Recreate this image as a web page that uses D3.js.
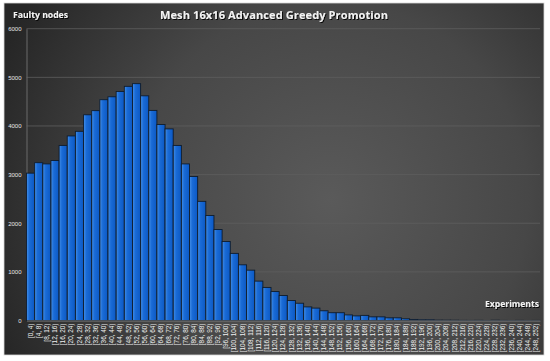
<!DOCTYPE html>
<html>
<head>
<meta charset="utf-8">
<script src="https://cdn.jsdelivr.net/npm/d3@7"></script>
<style>
  body { margin: 0; background: #fff; }
  svg { display: block; }
</style>
</head>
<body>
<svg id="chart" width="550" height="361"></svg>
<script>
// bins of 4 experiments: [0, 4) ... [248, 252)
const binStarts = d3.range(0, 252, 4);
const categories = binStarts.map(s => `[${s}, ${s + 4})`);

// faulty nodes per bin
const counts = [
  3030, 3245, 3220, 3290, 3600, 3795, 3890, 4230, 4315, 4540,
  4600, 4710, 4815, 4870, 4620, 4320, 4030, 3940, 3600, 3220,
  2960, 2450, 2160, 1870, 1625, 1380, 1145, 1035, 810, 680,
  595, 515, 410, 355, 280, 255, 200, 160, 160, 115,
  95, 105, 75, 75, 55, 55, 35, 22, 14, 14,
  8, 7, 6, 3, 2, 4, 1, 6, 2, 1,
  3, 1, 2
];

const yTicks = [0, 1000, 2000, 3000, 4000, 5000, 6000];

const svg = d3.select('#chart');

//BACKGROUND
const defs = svg.append('defs');
const bg = defs.append('radialGradient')
  .attr('id', 'bg')
  .attr('gradientUnits', 'userSpaceOnUse')
  .attr('cx', 330).attr('cy', 200).attr('r', 360);
bg.append('stop').attr('offset', '0%').attr('stop-color', '#5a5a5a');
bg.append('stop').attr('offset', '55%').attr('stop-color', '#474747');
bg.append('stop').attr('offset', '100%').attr('stop-color', '#262626');

const barGrad = defs.append('linearGradient')
  .attr('id', 'bar')
  .attr('x1', '0%').attr('x2', '100%').attr('y1', '0%').attr('y2', '0%');
barGrad.append('stop').attr('offset', '0%').attr('stop-color', '#4590e8');
barGrad.append('stop').attr('offset', '35%').attr('stop-color', '#1a6bd6');
barGrad.append('stop').attr('offset', '100%').attr('stop-color', '#0b58c4');

const shadow = defs.append('filter').attr('id', 'shadow')
  .attr('x', '-10%').attr('y', '-30%').attr('width', '130%').attr('height', '160%');
shadow.append('feDropShadow')
  .attr('dx', 1).attr('dy', 1).attr('stdDeviation', 0.6)
  .attr('flood-color', '#000').attr('flood-opacity', 0.9);

svg.append('rect')
  .attr('x', 4).attr('y', 3)
  .attr('width', 540).attr('height', 352)
  .attr('fill', 'url(#bg)')
  .attr('stroke', '#d8d8d8')
  .attr('stroke-width', 0.8);

//SCALES
const x = d3.scaleBand()
  .domain(categories)
  .range([26.5, 540])
  .paddingInner(0)
  .paddingOuter(0);

const y = d3.scaleLinear()
  .domain([0, 6000])
  .range([320.5, 28.7]);

//GRID
svg.append('g')
  .selectAll('line')
  .data(yTicks.filter(t => t > 0))
  .join('line')
  .attr('x1', 26.5).attr('x2', 540)
  .attr('y1', d => y(d)).attr('y2', d => y(d))
  .attr('stroke', '#5e5e5e')
  .attr('stroke-width', 0.8);

//Y AXIS
const yAxis = svg.append('g')
  .attr('transform', 'translate(26.5,0)')
  .call(d3.axisLeft(y).tickValues(yTicks).tickSize(0).tickPadding(5).tickFormat(d3.format('d')));
yAxis.select('.domain').attr('stroke', '#6a6a6a');
yAxis.selectAll('text')
  .attr('fill', '#e6e6e6')
  .style('font-family', 'Liberation Sans, Arial, sans-serif')
  .style('font-size', '6px');

//BARS
svg.append('g')
  .selectAll('rect')
  .data(counts)
  .join('rect')
  .attr('x', (d, i) => x(categories[i]))
  .attr('y', d => y(d))
  .attr('width', x.bandwidth())
  .attr('height', d => y(0) - y(d))
  .attr('fill', 'url(#bar)')
  .attr('stroke', '#0f1c2c')
  .attr('stroke-width', 0.9);

//X AXIS
const xAxis = svg.append('g')
  .attr('transform', `translate(0,${y(0)})`)
  .call(d3.axisBottom(x).tickSize(0).tickPadding(3));
xAxis.select('.domain').attr('stroke', '#7a7a7a');
xAxis.selectAll('text')
  .attr('fill', '#f0f0f0')
  .style('font-family', 'Liberation Sans, Arial, sans-serif')
  .style('font-size', '6.4px')
  .attr('text-anchor', 'end')
  .attr('dy', '0.33em')
  .attr('transform', 'translate(0,3) rotate(-90)')
  .attr('x', 0)
  .attr('y', 0);

//TEXTS
svg.append('text')
  .attr('x', 160).attr('y', 19)
  .attr('fill', '#f2f2f2')
  .attr('filter', 'url(#shadow)')
  .attr('textLength', 228)
  .attr('lengthAdjust', 'spacing')
  .style('font-family', 'Open Sans, DejaVu Sans, sans-serif')
  .style('font-weight', 'bold')
  .style('font-size', '11px')
  .text('Mesh 16x16 Advanced Greedy Promotion');

svg.append('text')
  .attr('x', 13).attr('y', 18)
  .attr('fill', '#f2f2f2')
  .attr('filter', 'url(#shadow)')
  .attr('textLength', 55)
  .attr('lengthAdjust', 'spacingAndGlyphs')
  .style('font-family', 'Open Sans, DejaVu Sans, sans-serif')
  .style('font-weight', 'bold')
  .style('font-size', '9.5px')
  .text('Faulty nodes');

svg.append('text')
  .attr('x', 485).attr('y', 307)
  .attr('fill', '#f2f2f2')
  .attr('filter', 'url(#shadow)')
  .attr('textLength', 54)
  .attr('lengthAdjust', 'spacingAndGlyphs')
  .style('font-family', 'Open Sans, DejaVu Sans, sans-serif')
  .style('font-weight', 'bold')
  .style('font-size', '9.5px')
  .text('Experiments');
</script>
</body>
</html>
